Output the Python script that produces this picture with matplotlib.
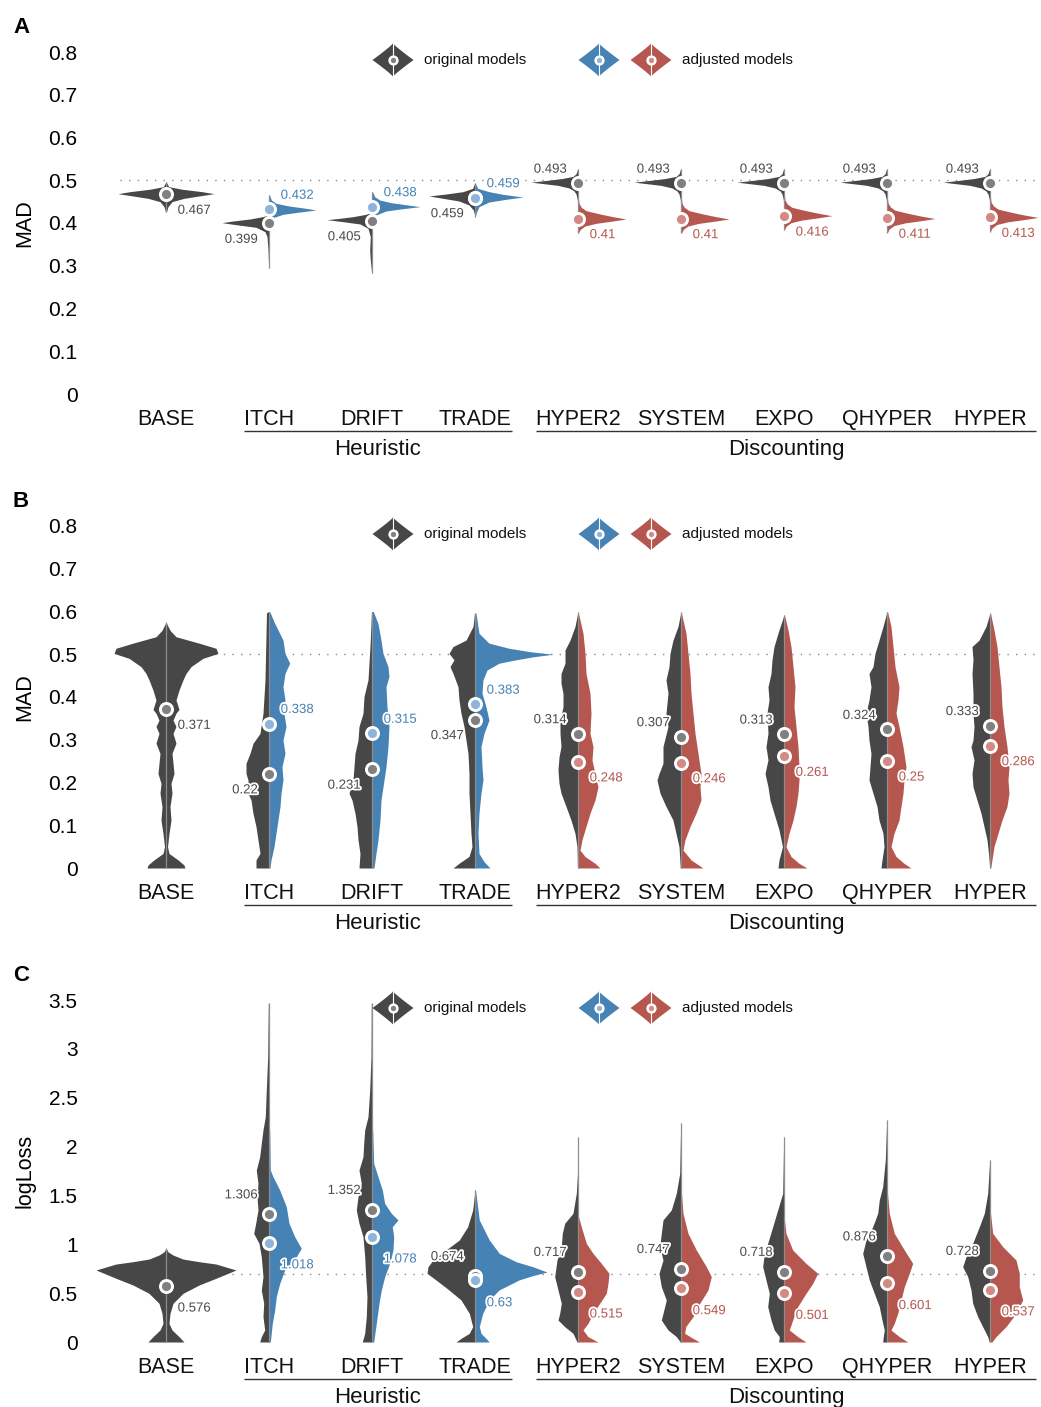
import numpy as np
import matplotlib
matplotlib.use("Agg")
import matplotlib.pyplot as plt
import matplotlib.transforms as mtransforms
import matplotlib.patheffects as pe

W, H = 1041, 1407
plt.rcParams['font.family'] = ['Liberation Sans', 'DejaVu Sans']

# ---------------- data ----------------
CATEGORIES = ['BASE', 'ITCH', 'DRIFT', 'TRADE', 'HYPER2', 'SYSTEM', 'EXPO', 'QHYPER', 'HYPER']
GROUP_NAMES = ['Heuristic', 'Discounting']
PANEL_LETTERS = ['A', 'B', 'C']
Y_LABELS = ['MAD', 'MAD', 'logLoss']
Y_TICKS = [[0, 0.1, 0.2, 0.3, 0.4, 0.5, 0.6, 0.7, 0.8],
           [0, 0.1, 0.2, 0.3, 0.4, 0.5, 0.6, 0.7, 0.8],
           [0, 0.5, 1, 1.5, 2, 2.5, 3, 3.5]]
Y_TICK_LABELS = [['0', '0.1', '0.2', '0.3', '0.4', '0.5', '0.6', '0.7', '0.8'],
                 ['0', '0.1', '0.2', '0.3', '0.4', '0.5', '0.6', '0.7', '0.8'],
                 ['0', '0.5', '1', '1.5', '2', '2.5', '3', '3.5']]
REF_LINES = [0.5, 0.5, 0.693]

# means (original models / adjusted models); BASE has no adjusted version
MEAN_A_ORIG = [0.467, 0.399, 0.405, 0.459, 0.493, 0.493, 0.493, 0.493, 0.493]
MEAN_A_ADJ = [None, 0.432, 0.438, 0.459, 0.41, 0.41, 0.416, 0.411, 0.413]
MEAN_B_ORIG = [0.371, 0.22, 0.231, 0.347, 0.314, 0.307, 0.313, 0.324, 0.333]
MEAN_B_ADJ = [None, 0.338, 0.315, 0.383, 0.248, 0.246, 0.261, 0.25, 0.286]
MEAN_C_ORIG = [0.576, 1.306, 1.352, 0.674, 0.717, 0.747, 0.718, 0.876, 0.728]
MEAN_C_ADJ = [None, 1.018, 1.078, 0.63, 0.515, 0.549, 0.501, 0.601, 0.537]

# violin density profiles: (value, density) knots
A_ORIG = {
    'BASE': [(0.497, 0), (0.485, 2.7), (0.479, 16), (0.4733, 36), (0.4686, 48), (0.4632, 33), (0.4577, 18), (0.4499, 6), (0.4382, 2), (0.4265, 0.5)],
    'ITCH': [(0.4187, 0.5), (0.415, 6), (0.4094, 19), (0.4047, 36), (0.4008, 47), (0.3961, 33), (0.3899, 13), (0.3797, 4), (0.368, 2), (0.337, 1), (0.294, 0.3)],
    'DRIFT': [(0.4265, 0.5), (0.4203, 6), (0.4148, 19), (0.411, 32), (0.4078, 45), (0.4031, 29), (0.3977, 12), (0.3876, 4), (0.368, 1.7), (0.3368, 2.3), (0.3135, 1.7), (0.2823, 0.3)],
    'TRADE': [(0.4928, 0.5), (0.4811, 2.3), (0.4733, 12), (0.4678, 29), (0.4632, 46), (0.4577, 32), (0.4515, 16), (0.4421, 6), (0.4304, 1.7), (0.4187, 0.3)],
    'HYPER2': [(0.527, 0.3), (0.515, 2), (0.509, 5), (0.504, 16), (0.500, 30), (0.4955, 47), (0.4925, 36), (0.488, 20), (0.482, 9), (0.475, 4), (0.468, 2), (0.455, 0.7), (0.445, 0.3)],
    'SYSTEM': [(0.527, 0.3), (0.515, 2), (0.509, 5), (0.504, 16), (0.500, 30), (0.4955, 47), (0.4925, 36), (0.488, 20), (0.482, 9), (0.475, 4), (0.468, 2), (0.455, 0.7), (0.445, 0.3)],
    'EXPO': [(0.527, 0.3), (0.515, 2), (0.509, 5), (0.504, 16), (0.500, 30), (0.4955, 47), (0.4925, 36), (0.488, 20), (0.482, 9), (0.475, 4), (0.468, 2), (0.455, 0.7), (0.445, 0.3)],
    'QHYPER': [(0.527, 0.3), (0.515, 2), (0.509, 5), (0.504, 16), (0.500, 30), (0.4955, 47), (0.4925, 36), (0.488, 20), (0.482, 9), (0.475, 4), (0.468, 2), (0.455, 0.7), (0.445, 0.3)],
    'HYPER': [(0.527, 0.3), (0.515, 2), (0.509, 5), (0.504, 16), (0.500, 30), (0.4955, 47), (0.4925, 36), (0.488, 20), (0.482, 9), (0.475, 4), (0.468, 2), (0.455, 0.7), (0.445, 0.3)],
}
A_ADJ = {
    'ITCH': [(0.4655, 0.5), (0.4538, 2.3), (0.446, 7), (0.4398, 20), (0.4343, 37), (0.4304, 47), (0.4257, 31), (0.4203, 14), (0.4125, 4), (0.403, 1.3), (0.392, 0.3)],
    'DRIFT': [(0.4733, 0.5), (0.4616, 2.7), (0.4538, 7.7), (0.4476, 19), (0.4421, 36), (0.4382, 48), (0.4335, 31), (0.4281, 14), (0.4187, 4), (0.407, 1.7), (0.3953, 0.3)],
    'TRADE': [(0.4928, 0.5), (0.4811, 2.7), (0.4733, 14), (0.467, 28), (0.4608, 48), (0.4554, 31), (0.4491, 14), (0.4382, 4), (0.4265, 1.7), (0.415, 0.3)],
    'HYPER2': [(0.4616, 0.3), (0.446, 1), (0.4366, 3.3), (0.4289, 8), (0.4211, 22), (0.4148, 35), (0.4094, 48), (0.4047, 35), (0.3992, 18), (0.393, 7), (0.3852, 2.3), (0.376, 0.3)],
    'SYSTEM': [(0.4616, 0.3), (0.446, 1), (0.4366, 3.3), (0.4289, 8), (0.4211, 22), (0.4148, 35), (0.4094, 48), (0.4047, 35), (0.3992, 18), (0.393, 7), (0.3852, 2.3), (0.376, 0.3)],
    'EXPO': [(0.4693, 0.3), (0.4537, 1), (0.4443, 3.3), (0.4366, 8), (0.4288, 22), (0.4225, 35), (0.4171, 48), (0.4124, 35), (0.4069, 18), (0.4007, 7), (0.3929, 2.3), (0.3837, 0.3)],
    'QHYPER': [(0.4626, 0.3), (0.447, 1), (0.4376, 3.3), (0.4299, 8), (0.4221, 22), (0.4158, 35), (0.4104, 48), (0.4057, 35), (0.4002, 18), (0.394, 7), (0.3862, 2.3), (0.377, 0.3)],
    'HYPER': [(0.4652, 0.3), (0.4496, 1), (0.4402, 3.3), (0.4325, 8), (0.4247, 22), (0.4184, 35), (0.413, 48), (0.4083, 35), (0.4028, 18), (0.3966, 7), (0.3888, 2.3), (0.3796, 0.3)],
}
B_ORIG = {
    'BASE': [(0.575, 0), (0.556, 4), (0.541, 10), (0.526, 33), (0.514, 50), (0.502, 52), (0.4905, 37), (0.471, 25), (0.455, 20), (0.440, 17), (0.416, 13), (0.393, 10), (0.371, 13), (0.362, 10), (0.346, 7), (0.331, 10), (0.315, 7), (0.292, 10), (0.268, 6), (0.245, 7), (0.221, 8), (0.198, 5), (0.175, 6), (0.144, 4), (0.112, 5), (0.081, 3), (0.050, 1.5), (0.034, 3), (0.019, 12), (0.007, 18), (0.0, 19)],
    'ITCH': [(0.600, 0), (0.597, 2.5), (0.440, 4), (0.362, 6), (0.315, 9), (0.2916, 16), (0.2682, 19), (0.2448, 23), (0.2214, 23), (0.2058, 21), (0.1747, 21), (0.1591, 18), (0.1279, 16), (0.0967, 13), (0.0655, 11), (0.0343, 9), (0.0187, 13), (0.0, 13)],
    'DRIFT': [(0.600, 0.5), (0.518, 2), (0.440, 4), (0.401, 8), (0.362, 9), (0.331, 13), (0.299, 14), (0.268, 17), (0.237, 18), (0.206, 19), (0.175, 23), (0.159, 20), (0.128, 17), (0.097, 15), (0.066, 14), (0.034, 12), (0.0, 13)],
    'TRADE': [(0.596, 0.5), (0.565, 2), (0.533, 9), (0.518, 22), (0.502, 26), (0.487, 21), (0.471, 25), (0.455, 22), (0.424, 17), (0.393, 16), (0.362, 14), (0.331, 11), (0.299, 9), (0.268, 7), (0.221, 6), (0.175, 6), (0.128, 5), (0.081, 4), (0.050, 3), (0.027, 6), (0.011, 16), (0.0, 22)],
    'HYPER2': [(0.600, 0), (0.565, 3), (0.533, 8), (0.510, 13), (0.479, 13), (0.455, 17), (0.432, 17), (0.409, 15), (0.377, 15), (0.346, 18), (0.315, 18), (0.284, 17), (0.260, 19), (0.229, 20), (0.198, 19), (0.175, 17), (0.144, 12), (0.112, 7), (0.081, 3), (0.050, 1), (0.0, 0.5)],
    'SYSTEM': [(0.600, 0), (0.565, 3), (0.533, 8), (0.502, 11), (0.471, 12), (0.440, 15), (0.409, 13), (0.362, 15), (0.331, 13), (0.284, 18), (0.245, 18), (0.221, 22), (0.206, 24), (0.175, 21), (0.144, 15), (0.112, 8), (0.081, 5), (0.050, 2), (0.0, 0.7)],
    'EXPO': [(0.592, 0), (0.557, 5), (0.518, 10), (0.487, 12), (0.455, 13), (0.424, 16), (0.393, 15), (0.362, 17), (0.315, 16), (0.284, 18), (0.253, 16), (0.221, 19), (0.190, 16), (0.159, 14), (0.128, 10), (0.089, 5), (0.050, 1.5), (0.019, 5), (0.0, 6)],
    'QHYPER': [(0.600, 0), (0.565, 4), (0.533, 8), (0.502, 12), (0.471, 14), (0.455, 18), (0.424, 16), (0.393, 18), (0.362, 21), (0.331, 19), (0.299, 18), (0.268, 16), (0.237, 17), (0.206, 18), (0.175, 14), (0.144, 10), (0.112, 8), (0.081, 4), (0.050, 3), (0.019, 5), (0.0, 6)],
    'HYPER': [(0.596, 0), (0.565, 4), (0.533, 11), (0.518, 18), (0.487, 17), (0.455, 18), (0.409, 17), (0.362, 17), (0.331, 16), (0.299, 17), (0.284, 19), (0.253, 16), (0.221, 18), (0.190, 17), (0.159, 13), (0.128, 9), (0.097, 6), (0.066, 3), (0.034, 1.5), (0.0, 0.3)],
}
B_ADJ = {
    'ITCH': [(0.600, 0.7), (0.5723, 5.7), (0.5333, 14), (0.5021, 16), (0.479, 20.7), (0.4554, 16), (0.4242, 14), (0.393, 16), (0.3618, 15), (0.3306, 17), (0.2994, 14), (0.2682, 16), (0.237, 13), (0.2058, 14), (0.1747, 12), (0.1435, 11), (0.1123, 9), (0.0811, 7), (0.0499, 5), (0.0187, 2), (0.0, 1)],
    'DRIFT': [(0.600, 1.3), (0.572, 6), (0.533, 9), (0.502, 11), (0.471, 16), (0.448, 17), (0.424, 14), (0.377, 15), (0.331, 17), (0.284, 16), (0.237, 14), (0.190, 11), (0.159, 9), (0.112, 8), (0.066, 6), (0.034, 4), (0.0, 2)],
    'TRADE': [(0.596, 1), (0.549, 4), (0.526, 14), (0.514, 34), (0.506, 55), (0.500, 78), (0.494, 58), (0.487, 41), (0.479, 24), (0.463, 12), (0.440, 8), (0.409, 7), (0.377, 11), (0.346, 14), (0.315, 9), (0.284, 6), (0.237, 7), (0.206, 8), (0.175, 6), (0.128, 4), (0.081, 3), (0.034, 4), (0.015, 9), (0.0, 15)],
    'HYPER2': [(0.596, 0.5), (0.549, 5), (0.502, 7), (0.455, 8), (0.409, 12), (0.362, 13), (0.315, 12), (0.284, 15), (0.253, 14), (0.221, 17), (0.190, 20), (0.159, 17), (0.128, 12), (0.097, 8), (0.066, 4), (0.042, 2), (0.027, 7), (0.011, 17), (0.0, 22)],
    'SYSTEM': [(0.596, 0.5), (0.549, 5), (0.502, 7), (0.455, 9), (0.409, 10), (0.362, 12), (0.315, 14), (0.268, 17), (0.221, 20), (0.190, 19), (0.159, 20), (0.128, 15), (0.097, 9), (0.066, 4), (0.042, 2), (0.019, 10), (0.0, 22)],
    'EXPO': [(0.592, 0.5), (0.557, 4), (0.518, 7), (0.471, 9), (0.424, 11), (0.377, 10), (0.331, 12), (0.284, 14), (0.237, 15), (0.206, 15), (0.175, 14), (0.144, 12), (0.112, 9), (0.081, 5), (0.050, 2), (0.027, 7), (0.011, 15), (0.0, 23)],
    'QHYPER': [(0.600, 0.5), (0.565, 4), (0.518, 6), (0.471, 8), (0.424, 12), (0.393, 11), (0.362, 9), (0.331, 12), (0.284, 16), (0.237, 19), (0.206, 17), (0.175, 16), (0.144, 14), (0.112, 12), (0.081, 7), (0.050, 4), (0.027, 9), (0.011, 17), (0.0, 24)],
    'HYPER': [(0.596, 0.5), (0.557, 4), (0.518, 7), (0.471, 9), (0.424, 11), (0.377, 12), (0.331, 14), (0.284, 17), (0.237, 19), (0.206, 18), (0.175, 19), (0.144, 17), (0.112, 12), (0.081, 8), (0.050, 4), (0.019, 2), (0.0, 0.7)],
}
C_ORIG = {
    'BASE': [(0.96, 0), (0.923, 2), (0.890, 7), (0.849, 17), (0.822, 33), (0.798, 50), (0.737, 70), (0.652, 50), (0.583, 33), (0.498, 17), (0.396, 7), (0.293, 4), (0.191, 3), (0.123, 6), (0.055, 13), (0.0, 18)],
    'ITCH': [(3.466, 0.7), (2.92, 1.3), (2.579, 2.7), (2.306, 3.7), (2.170, 6), (2.033, 7.7), (1.897, 9.3), (1.760, 12.7), (1.624, 11), (1.487, 12), (1.351, 11), (1.215, 13.3), (1.112, 15.3), (1.010, 10), (0.873, 7.7), (0.669, 6), (0.532, 7.7), (0.396, 5.3), (0.259, 6), (0.123, 4.3), (0.055, 7.7), (0.0, 9.3)],
    'DRIFT': [(3.466, 0.7), (2.92, 1), (2.579, 2.3), (2.306, 4), (2.170, 7.3), (2.033, 8.3), (1.897, 9), (1.760, 13), (1.624, 10.7), (1.487, 14), (1.351, 15.7), (1.215, 13), (1.078, 9), (0.873, 7.3), (0.669, 6.3), (0.464, 5), (0.259, 5.7), (0.089, 7.3), (0.0, 9.7)],
    'TRADE': [(1.556, 0), (1.351, 2.3), (1.180, 7.3), (1.044, 15.7), (0.942, 29), (0.839, 42), (0.771, 47), (0.703, 48), (0.635, 39), (0.532, 26), (0.430, 14), (0.293, 5.7), (0.157, 2.3), (0.089, 5.7), (0.037, 14), (0.0, 19)],
    'HYPER2': [(2.10, 0.3), (1.726, 0.5), (1.522, 1.7), (1.317, 5), (1.215, 13.3), (1.112, 15.7), (0.976, 16.7), (0.839, 21), (0.669, 23.3), (0.532, 20), (0.396, 16.7), (0.293, 18.3), (0.225, 20), (0.157, 13.3), (0.089, 5), (0.0, 1)],
    'SYSTEM': [(2.238, 0.3), (1.726, 1.3), (1.522, 4.7), (1.351, 9.7), (1.249, 18), (1.112, 19.7), (0.976, 21.3), (0.839, 18), (0.703, 22), (0.566, 19.7), (0.430, 14.7), (0.293, 18), (0.225, 19.7), (0.123, 13), (0.055, 4.7), (0.0, 0.7)],
    'EXPO': [(2.10, 0.3), (1.522, 1.3), (1.351, 6.3), (1.180, 11.3), (1.010, 16.3), (0.907, 19.7), (0.771, 21.3), (0.635, 18), (0.498, 14.7), (0.362, 16.3), (0.225, 13), (0.123, 9.7), (0.055, 4.7), (0.0, 5.3)],
    'QHYPER': [(2.272, 0.3), (1.863, 1.7), (1.590, 4.3), (1.454, 7.7), (1.317, 9.3), (1.180, 14.3), (1.044, 21), (0.907, 24.3), (0.771, 21), (0.635, 17.7), (0.498, 12.7), (0.362, 7.7), (0.225, 5), (0.123, 2.7), (0.055, 3.7), (0.0, 4.3)],
    'HYPER': [(1.863, 0.3), (1.522, 2.3), (1.317, 5.7), (1.180, 10.7), (1.010, 17.3), (0.873, 24), (0.771, 27.3), (0.669, 22.3), (0.532, 19), (0.396, 17.3), (0.259, 12.3), (0.157, 7.3), (0.055, 2.3), (0.0, 0.7)],
}
C_ADJ = {
    'ITCH': [(2.17, 0.7), (1.76, 1.3), (1.692, 4), (1.556, 10.7), (1.385, 17.3), (1.215, 20), (1.078, 25.7), (0.959, 32.3), (0.873, 27.3), (0.737, 15.7), (0.600, 10.7), (0.464, 7.3), (0.327, 5.7), (0.191, 3.3), (0.0, 1.3)],
    'DRIFT': [(2.17, 0.7), (1.829, 1.7), (1.692, 6), (1.556, 10.3), (1.419, 12.7), (1.317, 19.3), (1.249, 26), (1.180, 20.3), (1.078, 21.7), (0.942, 21), (0.805, 17.7), (0.669, 12.7), (0.532, 9.3), (0.396, 7), (0.191, 4.3), (0.0, 1.7)],
    'TRADE': [(1.556, 0.5), (1.249, 4.3), (1.044, 14.3), (0.907, 24.3), (0.822, 41), (0.770, 58), (0.716, 72), (0.680, 58), (0.635, 44), (0.532, 24), (0.430, 14.3), (0.293, 7.7), (0.157, 4.3), (0.089, 6), (0.037, 11), (0.0, 14.3)],
    'HYPER2': [(1.283, 0.5), (1.180, 3.3), (1.010, 8.3), (0.907, 15), (0.805, 23.3), (0.703, 31), (0.600, 30), (0.498, 28.3), (0.396, 21.7), (0.293, 15), (0.191, 10), (0.123, 5), (0.055, 10), (0.0, 20)],
    'SYSTEM': [(1.522, 0.5), (1.317, 2), (1.112, 7), (0.942, 15.3), (0.771, 25.3), (0.669, 30.3), (0.532, 27), (0.396, 18.7), (0.259, 12), (0.157, 4.7), (0.089, 3.7), (0.037, 12), (0.0, 18.7)],
    'EXPO': [(1.249, 0.5), (1.112, 2), (0.942, 8.7), (0.805, 22), (0.703, 33.7), (0.600, 28.7), (0.498, 22), (0.362, 13.7), (0.225, 8.7), (0.123, 5.3), (0.055, 13.7), (0.0, 22)],
    'QHYPER': [(1.522, 0.5), (1.317, 2.3), (1.112, 7.3), (0.942, 17.3), (0.805, 25.7), (0.703, 22.3), (0.566, 17.3), (0.430, 14), (0.293, 10.7), (0.191, 7.3), (0.123, 4), (0.055, 12.3), (0.0, 20.7)],
    'HYPER': [(1.317, 0.5), (1.112, 2.7), (0.976, 12.7), (0.839, 26), (0.703, 29.3), (0.566, 29.3), (0.430, 32.7), (0.293, 26), (0.157, 16), (0.055, 6), (0.0, 2)],
}

PANELS = [
    dict(orig=A_ORIG, adj=A_ADJ, m_orig=MEAN_A_ORIG, m_adj=MEAN_A_ADJ),
    dict(orig=B_ORIG, adj=B_ADJ, m_orig=MEAN_B_ORIG, m_adj=MEAN_B_ADJ),
    dict(orig=C_ORIG, adj=C_ADJ, m_orig=MEAN_C_ORIG, m_adj=MEAN_C_ADJ),
]

# ---------------- style / layout ----------------
DARK = '#474747'
BLUE = '#4682B4'
RED = '#B5574F'
DOT_DARK = '#808080'
DOT_BLUE = '#8FB4DA'
DOT_RED = '#D48A84'
TXT_DARK = '#4a4a4a'
CENTER_LINE = '#8e8e8e'

SLOT_PX = 103.0
X0_PX = 166.0
DENS_SCALE = 1.0 / SLOT_PX
ZERO_PX = [394, 868, 1342]
PPU = [427.5, 427.5, 97.71]
LAB_ABOVE = [7.6, 7.6, 11.5]
LAB_BELOW = [-14.0, -14.0, -18.6]
GROUP_SPANS = [(0.755, 3.357), (3.592, 8.447)]

fig = plt.figure(figsize=(W / 100, H / 100), dpi=100)
px_tr = mtransforms.Affine2D().scale(1 / 100, -1 / 100).translate(0, H / 100) + fig.dpi_scale_trans

AX_LEFT, AX_RIGHT = 90, 1041
xlim = ((AX_LEFT - X0_PX) / SLOT_PX, (AX_RIGHT - X0_PX) / SLOT_PX)


def half(ax, pos, knots, side, color):
    arr = np.array(knots, float)
    y = arr[:, 0]
    w = arr[:, 1] * DENS_SCALE
    if side == 'left':
        ax.fill_betweenx(y, pos - w, pos, color=color, lw=0, zorder=2)
    elif side == 'right':
        ax.fill_betweenx(y, pos, pos + w, color=color, lw=0, zorder=2)
    else:
        ax.fill_betweenx(y, pos - w, pos + w, color=color, lw=0, zorder=2)
    return y.min(), y.max()


def icon(cx, cy, color, dot):
    t = np.linspace(-1, 1, 81)
    hw = 20.5 * (1 - np.abs(t)) ** 1.1
    ys = cy + 16.5 * t
    xs = np.concatenate([cx - hw, (cx + hw)[::-1]])
    yy = np.concatenate([ys, ys[::-1]])
    poly = plt.Polygon(np.column_stack([xs, yy]), closed=True, facecolor=color,
                       edgecolor='none', transform=px_tr, clip_on=False, zorder=3)
    fig.add_artist(poly)
    fig.add_artist(plt.Line2D([cx, cx], [cy - 16, cy + 16], color='white', lw=0.8,
                              transform=px_tr, zorder=4))
    fig.add_artist(plt.Line2D([cx], [cy], marker='o', ms=7.4, mfc='white', mec='none',
                              transform=px_tr, zorder=5))
    fig.add_artist(plt.Line2D([cx], [cy], marker='o', ms=3.8, mfc=dot, mec='none',
                              transform=px_tr, zorder=6))


stroke = [pe.withStroke(linewidth=2.6, foreground='white')]

for p, P in enumerate(PANELS):
    y0 = ZERO_PX[p]
    ppu = PPU[p]
    top_px, bot_px = y0 - 364, y0 + 11
    ax = fig.add_axes([AX_LEFT / W, 1 - bot_px / H, (AX_RIGHT - AX_LEFT) / W, (bot_px - top_px) / H])
    ax.set_xlim(*xlim)
    ax.set_ylim(-11 / ppu, 364 / ppu)
    for s in ax.spines.values():
        s.set_visible(False)
    ax.set_xticks([])
    ax.set_yticks(Y_TICKS[p])
    ax.set_yticklabels(Y_TICK_LABELS[p], fontsize=15)
    ax.tick_params(axis='y', length=0, pad=9)
    ax.patch.set_alpha(0)

    # chance reference line
    ax.plot([-0.45, xlim[1]], [REF_LINES[p], REF_LINES[p]], color='#8a8a8a', lw=1.0,
            ls=(0, (1, 5.2)), zorder=1)

    for i, cat in enumerate(CATEGORIES):
        mo = P['m_orig'][i]
        ma = P['m_adj'][i]
        if ma is None:
            lo, hi = half(ax, i, P['orig'][cat], 'both', DARK)
        else:
            lo1, hi1 = half(ax, i, P['orig'][cat], 'left', DARK)
            acol = BLUE if i <= 3 else RED
            lo2, hi2 = half(ax, i, P['adj'][cat], 'right', acol)
            lo, hi = min(lo1, lo2), max(hi1, hi2)
        ax.plot([i, i], [lo, hi], color=CENTER_LINE, lw=0.9, zorder=3, solid_capstyle='butt')

        # means
        ax.plot(i, mo, 'o', ms=10.8, mfc='white', mec='none', zorder=5)
        ax.plot(i, mo, 'o', ms=6.6, mfc=DOT_DARK, mec='none', zorder=6)
        if ma is None:
            ax.annotate(f"{mo:g}", (i, mo), xytext=(8.4, LAB_BELOW[p]), textcoords='offset points',
                        ha='left', va='baseline', fontsize=9.5, color=TXT_DARK,
                        path_effects=stroke, zorder=8)
        else:
            dcol = DOT_BLUE if i <= 3 else DOT_RED
            acol = BLUE if i <= 3 else RED
            ax.plot(i, ma, 'o', ms=10.8, mfc='white', mec='none', zorder=6.5)
            ax.plot(i, ma, 'o', ms=6.6, mfc=dcol, mec='none', zorder=7)
            orig_above = mo > ma
            ax.annotate(f"{mo:g}", (i, mo),
                        xytext=(-8.0, LAB_ABOVE[p] if orig_above else LAB_BELOW[p]),
                        textcoords='offset points', ha='right', va='baseline', fontsize=9.5,
                        color=TXT_DARK, path_effects=stroke, zorder=8)
            ax.annotate(f"{ma:g}", (i, ma),
                        xytext=(8.4, LAB_BELOW[p] if orig_above else LAB_ABOVE[p]),
                        textcoords='offset points', ha='left', va='baseline', fontsize=9.5,
                        color=acol, path_effects=stroke, zorder=8)

    # category labels and group brackets
    bl = mtransforms.blended_transform_factory(ax.transData, px_tr)
    for i, cat in enumerate(CATEGORIES):
        ax.text(i, y0 + 31, cat, ha='center', va='baseline', fontsize=15.5,
                transform=bl, clip_on=False, color='#111111')
    for g, (x1, x2) in enumerate(GROUP_SPANS):
        ax.plot([x1, x2], [y0 + 37, y0 + 37], transform=bl, clip_on=False,
                color='#333333', lw=1.0, solid_capstyle='butt')
        ax.text((x1 + x2) / 2, y0 + 61, GROUP_NAMES[g], ha='center', va='baseline',
                fontsize=16, transform=bl, clip_on=False, color='#111111')

    # y label
    yl_tr = mtransforms.blended_transform_factory(px_tr, ax.transData)
    ymid = (Y_TICKS[p][0] + Y_TICKS[p][-1]) / 2
    ax.text(25, ymid, Y_LABELS[p], rotation=90, ha='center', va='center', fontsize=15.5,
            transform=yl_tr, clip_on=False)

    # panel letter
    fig.text(13, y0 - 361, PANEL_LETTERS[p], transform=px_tr, fontsize=16,
             fontweight='bold', ha='left', va='baseline')

    # legend
    ly = y0 - 334
    icon(393, ly, DARK, DOT_DARK)
    icon(599, ly, BLUE, DOT_BLUE)
    icon(651, ly, RED, DOT_RED)
    fig.text(424, ly + 4, 'original models', transform=px_tr, fontsize=11,
             ha='left', va='baseline', color='#111111')
    fig.text(682, ly + 4, 'adjusted models', transform=px_tr, fontsize=11,
             ha='left', va='baseline', color='#111111')

fig.savefig('out.png', dpi=100)
